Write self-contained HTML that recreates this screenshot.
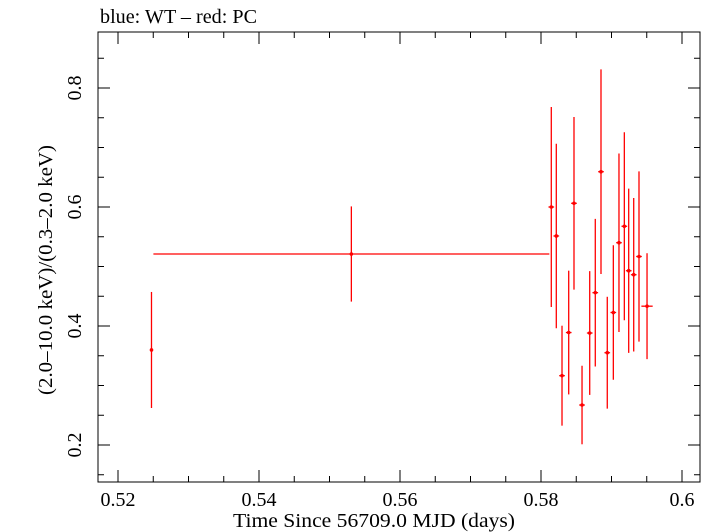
<!DOCTYPE html>
<html><head><meta charset="utf-8"><style>
html,body{margin:0;padding:0;background:#fff;}
svg{display:block;font-family:"Liberation Serif",serif;}
</style></head><body>
<svg id="c" width="709" height="532" viewBox="0 0 709 532">
<text x="100" y="23" font-size="20" textLength="157" lengthAdjust="spacingAndGlyphs">blue: WT – red: PC</text>
<rect x="98" y="32" width="602" height="450" fill="none" stroke="#000" stroke-width="1"/>
<g id="axes"></g>
<g id="marks"></g>
<text x="374" y="527" font-size="20" text-anchor="middle" textLength="282" lengthAdjust="spacingAndGlyphs">Time Since 56709.0 MJD (days)</text>
<text transform="translate(52,270) rotate(-90)" font-size="20" text-anchor="middle" textLength="250" lengthAdjust="spacingAndGlyphs">(2.0–10.0 keV)/(0.3–2.0 keV)</text>
</svg>
<script>
const xs=[0.52475,0.5531,0.58146,0.58217,0.58298,0.58393,0.58468,0.58582,0.58691,0.58770,0.58851,0.58940,0.59026,0.59106,0.59182,0.59244,0.59315,0.59390,0.59504];
const xerrs=[0.0002,0.02808,0.0004,0.0004,0.0004,0.0004,0.0004,0.0004,0.0004,0.0004,0.0004,0.0004,0.0004,0.0004,0.0004,0.0004,0.0004,0.0004,0.0008];
const ys=[0.3597,0.521,0.600,0.5513,0.3165,0.389,0.6062,0.2672,0.3882,0.456,0.6593,0.3551,0.4227,0.540,0.5676,0.4929,0.4862,0.5168,0.4333];
const yerrs=[0.0975,0.080,0.168,0.155,0.084,0.104,0.145,0.066,0.104,0.124,0.172,0.094,0.113,0.150,0.158,0.138,0.129,0.143,0.089];
const xTicks=[0.52,0.54,0.56,0.58,0.6];
const xTickLabels=["0.52","0.54","0.56","0.58","0.6"];
const yTicks=[0.2,0.4,0.6,0.8];
const yTickLabels=["0.2","0.4","0.6","0.8"];
const L=98,R=700,T=32,B=482;
const X=v=>118+(v-0.52)*7050;
const Y=v=>445-(v-0.2)*595;
const NS="http://www.w3.org/2000/svg";
function mk(tag,attrs,parent){const e=document.createElementNS(NS,tag);for(const k in attrs)e.setAttribute(k,attrs[k]);parent.appendChild(e);return e;}
const ax=document.getElementById('axes'),mg=document.getElementById('marks');
for(let v=0.515;v<=0.6051;v+=0.005){const px=X(v);if(px<L||px>R)continue;
 const major=xTicks.some(t=>Math.abs(t-v)<1e-6);const len=major?12:6;
 const t1=mk('line',{x1:px,x2:px,y1:B,y2:B-len,stroke:'#000'},ax);
 
 
 const t2=mk('line',{x1:px,x2:px,y1:T,y2:T+len,stroke:'#000'},ax);
 
 }
for(let v=0.15;v<=0.9;v+=0.05){const py=Y(v);if(py<T||py>B)continue;
 const major=yTicks.some(t=>Math.abs(t-v)<1e-6);const len=major?12:6;
 const t1=mk('line',{x1:L,x2:L+len,y1:py,y2:py,stroke:'#000'},ax);
 
 
 const t2=mk('line',{x1:R,x2:R-len,y1:py,y2:py,stroke:'#000'},ax);
 
 }
xTicks.forEach((v,i)=>{const t=mk('text',{x:X(v),y:506,'font-size':20,'text-anchor':'middle'},ax);t.textContent=xTickLabels[i];
 
 });
yTicks.forEach((v,i)=>{const t=mk('text',{transform:`translate(81,${Y(v)}) rotate(-90)`,'font-size':20,'text-anchor':'middle'},ax);t.textContent=yTickLabels[i];
 
 });
xs.forEach((x,i)=>{const g=mk('g',{stroke:'#f00','stroke-width':1.3},mg);
 
 
 mk('line',{x1:X(x-xerrs[i]),x2:X(x+xerrs[i]),y1:Y(ys[i]),y2:Y(ys[i])},g);
 mk('line',{x1:X(x),x2:X(x),y1:Y(ys[i]-yerrs[i]),y2:Y(ys[i]+yerrs[i])},g);
 mk('circle',{cx:X(x),cy:Y(ys[i]),r:1.8,fill:'#f00',stroke:'none'},g);});
</script>
</body></html>
